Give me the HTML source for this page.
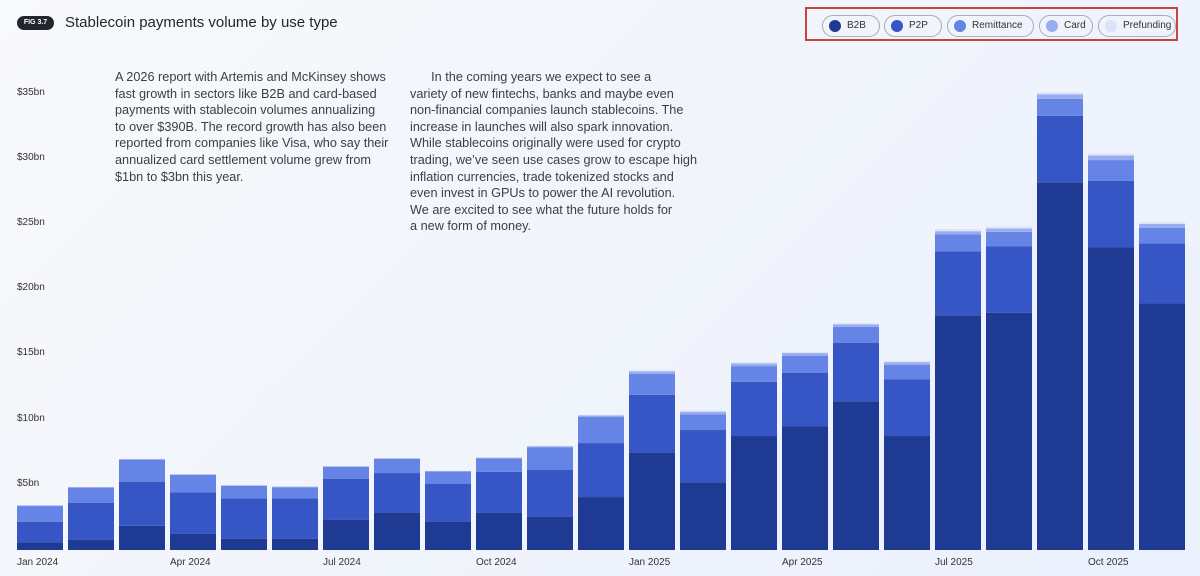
<!DOCTYPE html>
<html><head><meta charset="utf-8">
<style>
html,body{margin:0;padding:0}
body{width:1200px;height:576px;overflow:hidden;background:linear-gradient(135deg,#f8f9fb 0%,#f1f4fb 50%,#eaf0fd 100%);font-family:"Liberation Sans",sans-serif;position:relative;color:#2a2d35}
#badge{position:absolute;left:17px;top:16px;width:37px;height:14px;border-radius:7px;background:#23262e;color:#fff;font-size:7px;font-weight:bold;line-height:14px;text-align:center}
#title{position:absolute;left:65px;top:14px;font-size:15px;color:#23262e}
#legend{position:absolute;left:805px;top:7px;width:373px;height:34px;border:2px solid #c9443c;box-sizing:border-box}
.pill{position:absolute;top:6px;height:22px;border:1px solid #a9acb6;border-radius:11px;box-sizing:border-box;font-size:10px;line-height:20px;color:#333;padding-left:24px}
.pill i{position:absolute;left:6px;top:4px;width:12px;height:12px;border-radius:6px}
.txt{position:absolute;font-size:12.7px;line-height:16.6px;color:#3b3e46;white-space:nowrap}
.yl{position:absolute;left:17px;font-size:10px;color:#333}
.xl{position:absolute;top:557px;font-size:10px;color:#333}
svg{position:absolute;left:0;top:0}
</style></head><body>
<div id="badge">FIG 3.7</div>
<div id="title">Stablecoin payments volume by use type</div>
<div id="legend">
 <div class="pill" style="left:15px;width:58px"><i style="background:#1f3a93"></i>B2B</div>
 <div class="pill" style="left:77px;width:58px"><i style="background:#3556c4"></i>P2P</div>
 <div class="pill" style="left:140px;width:87px"><i style="background:#6683e6"></i>Remittance</div>
 <div class="pill" style="left:232px;width:54px"><i style="background:#98acee"></i>Card</div>
 <div class="pill" style="left:291px;width:78px"><i style="background:#dbe3f8"></i>Prefunding</div>
</div>
<div class="txt" style="left:115px;top:69px">A 2026 report with Artemis and McKinsey shows<br>fast growth in sectors like B2B and card-based<br>payments with stablecoin volumes annualizing<br>to over $390B. The record growth has also been<br>reported from companies like Visa, who say their<br>annualized card settlement volume grew from<br>$1bn to $3bn this year.</div>
<div class="txt" style="left:410px;top:69px">&nbsp;&nbsp;&nbsp;&nbsp;&nbsp;&nbsp;In the coming years we expect to see a<br>variety of new fintechs, banks and maybe even<br>non-financial companies launch stablecoins. The<br>increase in launches will also spark innovation.<br>While stablecoins originally were used for crypto<br>trading, we’ve seen use cases grow to escape high<br>inflation currencies, trade tokenized stocks and<br>even invest in GPUs to power the AI revolution.<br>We are excited to see what the future holds for<br>a new form of money.</div>
<svg id="chart" width="1200" height="576"></svg>
<script>
const months=["Jan 2024","Feb 2024","Mar 2024","Apr 2024","May 2024","Jun 2024","Jul 2024","Aug 2024","Sep 2024","Oct 2024","Nov 2024","Dec 2024","Jan 2025","Feb 2025","Mar 2025","Apr 2025","May 2025","Jun 2025","Jul 2025","Aug 2025","Sep 2025","Oct 2025","Nov 2025"];
const b2b=[0.6,0.77,1.86,1.23,0.87,0.87,2.33,2.89,2.2,2.84,2.56,4.06,7.44,5.2,8.74,9.5,11.4,8.74,18.0,18.2,28.2,23.2,18.9];
const p2p=[1.57,2.86,3.38,3.19,3.09,3.09,3.14,3.01,2.89,3.16,3.6,4.14,4.46,4.0,4.16,4.1,4.5,4.36,4.9,5.1,5.1,5.1,4.6];
const remittance=[1.2,1.15,1.68,1.33,0.95,0.85,0.9,1.08,0.92,1.03,1.7,2.0,1.6,1.2,1.2,1.3,1.2,1.1,1.3,1.1,1.3,1.6,1.2];
const card=[0.05,0.05,0.06,0.05,0.05,0.05,0.05,0.05,0.05,0.05,0.1,0.12,0.2,0.2,0.2,0.2,0.2,0.2,0.25,0.25,0.35,0.35,0.3];
const prefunding=[0,0,0,0,0,0,0,0,0,0,0.02,0.05,0.1,0.1,0.1,0.1,0.1,0.1,0.15,0.15,0.15,0.15,0.15];
const yTicks=[5,10,15,20,25,30,35];
const xTickIdx=[0,3,6,9,12,15,18,21];
const series=[["b2b",b2b,"#1f3a93"],["p2p",p2p,"#3556c4"],["remittance",remittance,"#6683e6"],["card",card,"#98acee"],["prefunding",prefunding,"#dbe3f8"]];
const base=550, pxPer=13.04, x0=17, step=51, bw=46;
const yS=v=>base-v*pxPer;
const xS=i=>x0+i*step;
const svg=document.getElementById('chart');
const NS="http://www.w3.org/2000/svg";
months.forEach((m,i)=>{
  let acc=0;
  series.forEach(([name,arr,col])=>{
    const v=arr[i]; if(v<=0) return;
    const r=document.createElementNS(NS,'rect');
    r.setAttribute('x',xS(i)); r.setAttribute('width',bw);
    r.setAttribute('y',yS(acc+v)); r.setAttribute('height',v*pxPer);
    r.setAttribute('fill',col);
    
    
    svg.appendChild(r); acc+=v;
  });
});
yTicks.forEach(t=>{
  const d=document.createElement('div'); d.className='yl';
  d.style.top=(yS(t)-7)+'px'; d.textContent='$'+t+'bn';
  
  
  document.body.appendChild(d);
});
xTickIdx.forEach(i=>{
  const d=document.createElement('div'); d.className='xl';
  d.style.left=xS(i)+'px'; d.textContent=months[i];
  
  
  document.body.appendChild(d);
});
</script>
</body></html>
